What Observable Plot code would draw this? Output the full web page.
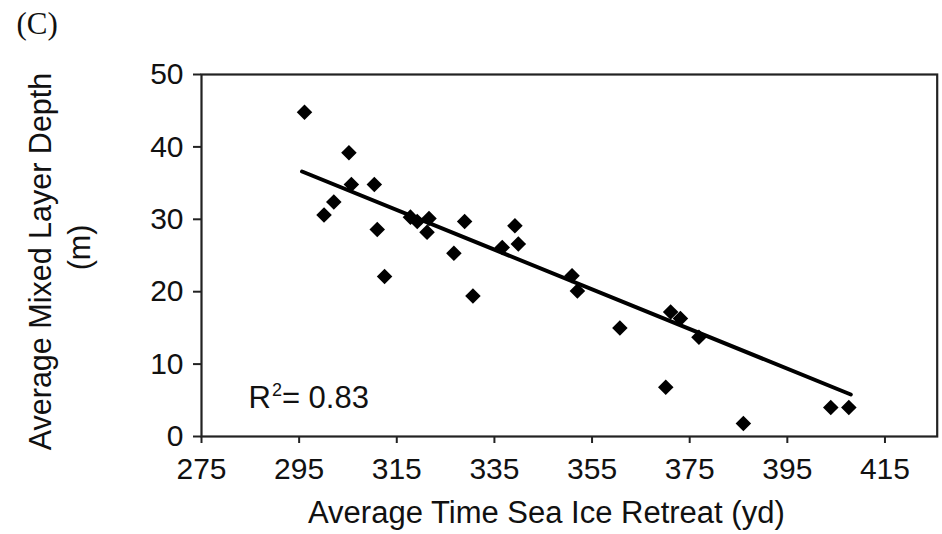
<!DOCTYPE html>
<html><head><meta charset="utf-8">
<script src="https://cdn.jsdelivr.net/npm/d3@7"></script>
<script src="https://cdn.jsdelivr.net/npm/@observablehq/plot@0.6"></script>
<style>
  html, body { margin: 0; padding: 0; background: #fff; }
  #chart { width: 942px; height: 534px; }
</style>
</head><body>
<div id="chart"></div>
<script>
// Data
const retreatDay = [296.1, 305.2, 305.7, 310.4, 302.1, 300.1, 311.0, 312.5, 317.8, 319.2, 321.6, 321.2, 328.9, 326.7, 339.2, 336.6, 339.9, 330.6, 350.9, 352.0, 360.7, 371.1, 373.1, 376.9, 370.1, 386.0, 403.9, 407.6];
const mixedLayerDepth = [44.8, 39.2, 34.8, 34.8, 32.4, 30.6, 28.6, 22.1, 30.3, 29.7, 30.1, 28.2, 29.7, 25.3, 29.1, 26.1, 26.6, 19.4, 22.2, 20.1, 15.0, 17.2, 16.3, 13.7, 6.8, 1.8, 4.0, 4.0];
const fitRetreatDay = [295.6, 408.0];
const fitDepth = [36.6, 5.8];
const xTicks = [275, 295, 315, 335, 355, 375, 395, 415];
const yTicks = [0, 10, 20, 30, 40, 50];
const xDomain = [275, 425.7];
const yDomain = [0, 50];
const panelLabel = "(C)";
const xLabel = "Average Time Sea Ice Retreat (yd)";
const yLabelLine1 = "Average Mixed Layer Depth";
const yLabelLine2 = "(m)";
const r2Base = "R";
const r2Sup = "2";
const r2Rest = "= 0.83";

const sans = "'Liberation Sans', Arial, Helvetica, sans-serif";
const serif = "'Liberation Serif', 'Times New Roman', serif";

const chart = Plot.plot({
  width: 942,
  height: 534,
  marginLeft: 201,
  marginRight: 5.3,
  marginTop: 74,
  marginBottom: 98,
  style: { fontFamily: sans, fontSize: "30px", color: "#111", background: "#fff" },
  x: { domain: xDomain },
  y: { domain: yDomain },
  marks: [
    Plot.axisX({ ticks: xTicks, tickSize: 7, tickPadding: 14, label: null, fontSize: 30, strokeWidth: 2, stroke: "#222" }),
    Plot.axisY({ ticks: yTicks, tickSize: 8, tickPadding: 10, label: null, fontSize: 30, strokeWidth: 2, stroke: "#222" }),
    Plot.frame({ stroke: "#222", strokeWidth: 2.2 }),
    Plot.line({ length: fitRetreatDay.length }, { x: fitRetreatDay, y: fitDepth, stroke: "#000", strokeWidth: 4 }),
    Plot.dot({ length: retreatDay.length }, { x: retreatDay, y: mixedLayerDepth, symbol: "diamond2", r: 7, fill: "#000", stroke: "none" }),
    Plot.text([r2Base], { frameAnchor: "bottom-left", text: d => d, textAnchor: "start", lineAnchor: "bottom", dx: 47, dy: -29, fontSize: 31, fill: "#111", className: "r2label" }),
    Plot.text([xLabel], { frameAnchor: "bottom", text: d => d, textAnchor: "middle", lineAnchor: "bottom", dx: -23, dy: 86, fontSize: 31, fill: "#111" }),
    Plot.text([yLabelLine1], { frameAnchor: "left", text: d => d, rotate: -90, textAnchor: "middle", lineAnchor: "bottom", dx: -151, dy: 6, fontSize: 30.5, fill: "#111" }),
    Plot.text([yLabelLine2], { frameAnchor: "left", text: d => d, rotate: -90, textAnchor: "middle", lineAnchor: "bottom", dx: -112, dy: -8, fontSize: 30.5, fill: "#111" }),
    Plot.text([panelLabel], { frameAnchor: "top-left", text: d => d, textAnchor: "start", lineAnchor: "bottom", dx: -185, dy: -41, fontSize: 31, fontFamily: serif, fill: "#111" })
  ]
});
// Superscript in R² label as real text tspans
const r2Text = d3.select(chart).select("g.r2label text");
if (!r2Text.empty()) {
  r2Text.text(null);
  r2Text.append("tspan").text(r2Base);
  r2Text.append("tspan").attr("font-size", 18).attr("dy", -12).attr("dx", 1).text(r2Sup);
  r2Text.append("tspan").attr("dy", 12).text(r2Rest);
}
document.getElementById("chart").appendChild(chart);
</script>
</body></html>
